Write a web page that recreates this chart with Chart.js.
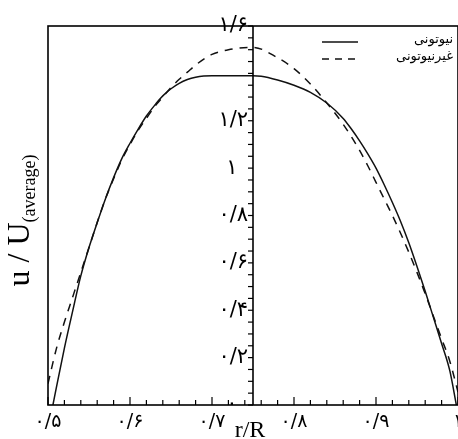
<!DOCTYPE html>
<html>
<head>
<meta charset="utf-8">
<script src="https://cdn.jsdelivr.net/npm/chart.js@4"></script>
<style>
  html, body { margin: 0; padding: 0; background: #fff; }
  canvas { display: block; }
</style>
</head>
<body>
<canvas id="myChart" width="458" height="439"></canvas>
<script>
'use strict';

// values
var newtonR = [0.506, 0.51, 0.52, 0.53, 0.54, 0.55, 0.56, 0.57, 0.58, 0.59, 0.60, 0.61, 0.62, 0.63, 0.64,
  0.65, 0.66, 0.67, 0.68, 0.69, 0.70, 0.72, 0.75, 0.76, 0.78, 0.80, 0.82, 0.84, 0.86, 0.87, 0.88, 0.89,
  0.90, 0.91, 0.92, 0.93, 0.94, 0.95, 0.96, 0.97, 0.98, 0.99, 0.998];
var newtonU = [0, 0.07, 0.24, 0.395, 0.545, 0.665, 0.77, 0.87, 0.96, 1.04, 1.105, 1.165, 1.22, 1.265, 1.305,
  1.335, 1.358, 1.374, 1.384, 1.389, 1.39, 1.39, 1.39, 1.388, 1.372, 1.35, 1.32, 1.275, 1.21, 1.165, 1.115, 1.06,
  1.00, 0.93, 0.855, 0.775, 0.685, 0.585, 0.48, 0.37, 0.26, 0.145, 0];

var nonNewtonR = [0.5, 0.51, 0.52, 0.53, 0.54, 0.55, 0.56, 0.57, 0.58, 0.59, 0.60, 0.61, 0.62, 0.63, 0.64,
  0.65, 0.66, 0.67, 0.68, 0.69, 0.70, 0.72, 0.75, 0.78, 0.80, 0.82, 0.84, 0.86, 0.88, 0.89, 0.90, 0.91,
  0.92, 0.93, 0.94, 0.95, 0.96, 0.97, 0.98, 0.99, 1.0];
var nonNewtonU = [0.09, 0.235, 0.35, 0.455, 0.56, 0.665, 0.77, 0.87, 0.955, 1.035, 1.10, 1.16, 1.21, 1.26, 1.30,
  1.34, 1.375, 1.405, 1.435, 1.46, 1.48, 1.50, 1.51, 1.466, 1.42, 1.355, 1.275, 1.185, 1.075, 1.01, 0.94, 0.87,
  0.80, 0.725, 0.645, 0.56, 0.47, 0.375, 0.28, 0.185, 0.055];

var seriesNames = ['نیوتونی', 'غیرنیوتونی'];

var xTickValues = [0.5, 0.6, 0.7, 0.8, 0.9, 1];
var xTickLabels = ['۰/۵', '۰/۶', '۰/۷', '۰/۸', '۰/۹', '۱'];
var yTickValues = [0, 0.2, 0.4, 0.6, 0.8, 1, 1.2, 1.4, 1.6];
var yTickLabels = ['۰', '۰/۲', '۰/۴', '۰/۶', '۰/۸', '۱', '۱/۲', '', '۱/۶'];

var xTitle = 'r/R';
var yTitleMain = 'u / U';
var yTitleSub = '(average)';

var axisAt = 0.75;

function toPoints (xs, ys) {
  var pts = [];
  for (var i = 0; i < xs.length; i++) {
    pts.push({x: xs[i], y: ys[i]});
  }
  return pts;
}

function labelFor (value, values, labels) {
  for (var i = 0; i < values.length; i++) {
    if (Math.abs(values[i] - value) < 1e-6) {
      return labels[i];
    }
  }
  return null;
}

// box round the plot, the middle axis and the tick marks
var frame = {
  id: 'frame',
  afterDraw: function (chart) {
    var ctx = chart.ctx;
    var area = chart.chartArea;
    var xs = chart.scales.x;
    var ys = chart.scales.y;
    var ax = xs.getPixelForValue(axisAt);
    ctx.save();
    ctx.strokeStyle = '#000';
    ctx.lineWidth = 1.6;
    ctx.strokeRect(area.left, area.top, area.right - area.left, area.bottom - area.top);
    ctx.beginPath();
    ctx.moveTo(ax, area.top);
    ctx.lineTo(ax, area.bottom);
    ctx.stroke();
    ctx.lineWidth = 1.2;
    xs.ticks.forEach(function (t) {
      var px = xs.getPixelForValue(t.value);
      var len = labelFor(t.value, xTickValues, xTickLabels) !== null ? 8 : 5;
      ctx.beginPath();
      ctx.moveTo(px, area.bottom);
      ctx.lineTo(px, area.bottom - len);
      ctx.stroke();
    });
    ys.ticks.forEach(function (t) {
      var py = ys.getPixelForValue(t.value);
      ctx.beginPath();
      ctx.moveTo(ax, py);
      ctx.lineTo(ax - 5, py);
      ctx.stroke();
    });
    ctx.restore();
  }
};

// legend inside the plot, top right
var legendBox = {
  id: 'legendBox',
  afterDraw: function (chart) {
    var ctx = chart.ctx;
    var area = chart.chartArea;
    ctx.save();
    chart.data.datasets.forEach(function (ds, i) {
      var y = area.top + 16 + i * 17;
      ctx.strokeStyle = ds.borderColor;
      ctx.lineWidth = ds.borderWidth;
      ctx.setLineDash(ds.borderDash ? [7, 6] : []);
      ctx.beginPath();
      ctx.moveTo(area.left + 274, y);
      ctx.lineTo(area.left + 310, y);
      ctx.stroke();
      ctx.setLineDash([]);
      ctx.fillStyle = '#000';
      ctx.font = '13px "DejaVu Sans"';
      ctx.textAlign = 'right';
      ctx.textBaseline = 'middle';
      ctx.fillText(ds.label, area.right - 5, y - 2);
    });
    ctx.restore();
  }
};

// axis titles
var titles = {
  id: 'titles',
  afterDraw: function (chart) {
    var ctx = chart.ctx;
    var area = chart.chartArea;
    ctx.save();
    ctx.fillStyle = '#000';
    ctx.textBaseline = 'alphabetic';
    ctx.textAlign = 'center';
    ctx.font = '24px "Liberation Serif"';
    ctx.fillText(xTitle, 250, 437);

    ctx.translate(29, (area.top + area.bottom) / 2 + 5);
    ctx.rotate(-Math.PI / 2);
    ctx.font = '32px "Liberation Serif"';
    var w1 = ctx.measureText(yTitleMain).width;
    ctx.font = '18px "Liberation Serif"';
    var w2 = ctx.measureText(yTitleSub).width;
    var start = -(w1 + w2) / 2;
    ctx.textAlign = 'left';
    ctx.font = '32px "Liberation Serif"';
    ctx.fillText(yTitleMain, start, 0);
    ctx.font = '18px "Liberation Serif"';
    ctx.fillText(yTitleSub, start + w1, 6);
    ctx.restore();
  }
};

var ctx = document.getElementById('myChart').getContext('2d');
var chart = new Chart(ctx, {
  type: 'scatter',
  data: {
    datasets: [{
      label: seriesNames[0],
      data: toPoints(newtonR, newtonU),
      showLine: true,
      borderColor: '#111',
      borderWidth: 1.5,
      pointRadius: 0,
      cubicInterpolationMode: 'monotone'
    }, {
      label: seriesNames[1],
      data: toPoints(nonNewtonR, nonNewtonU),
      showLine: true,
      borderColor: '#111',
      borderWidth: 1.5,
      borderDash: [8, 7],
      pointRadius: 0,
      cubicInterpolationMode: 'monotone'
    }]
  },
  options: {
    responsive: false,
    animation: false,
    layout: { padding: { left: 48, top: 26, right: 0, bottom: -1 } },
    plugins: {
      legend: { display: false },
      tooltip: { enabled: false }
    },
    scales: {
      x: {
        type: 'linear',
        min: 0.5,
        max: 1,
        afterFit: function (axis) {
          axis.paddingRight = 0;
          axis.paddingLeft = 0;
        },
        grid: { display: false, drawTicks: false },
        border: { display: false },
        ticks: {
          stepSize: 0.02,
          autoSkip: false,
          maxRotation: 0,
          padding: 8,
          color: '#000',
          font: { family: 'DejaVu Sans', size: 19, lineHeight: 1 },
          callback: function (value) {
            return labelFor(value, xTickValues, xTickLabels) || '';
          }
        }
      },
      y: {
        type: 'linear',
        // labels sit just left of the middle axis
        position: { x: 0.744 },
        min: 0,
        max: 1.6,
        grid: { display: false, drawTicks: false },
        border: { display: false },
        ticks: {
          stepSize: 0.05,
          autoSkip: false,
          labelOffset: 0,
          color: '#000',
          font: { family: 'DejaVu Sans', size: 21 },
          callback: function (value) {
            var s = labelFor(value, yTickValues, yTickLabels) || '';
            return s.length === 1 ? s + '\u2002' : s;
          }
        }
      }
    }
  },
  plugins: [frame, legendBox, titles]
});
</script>
</body>
</html>
